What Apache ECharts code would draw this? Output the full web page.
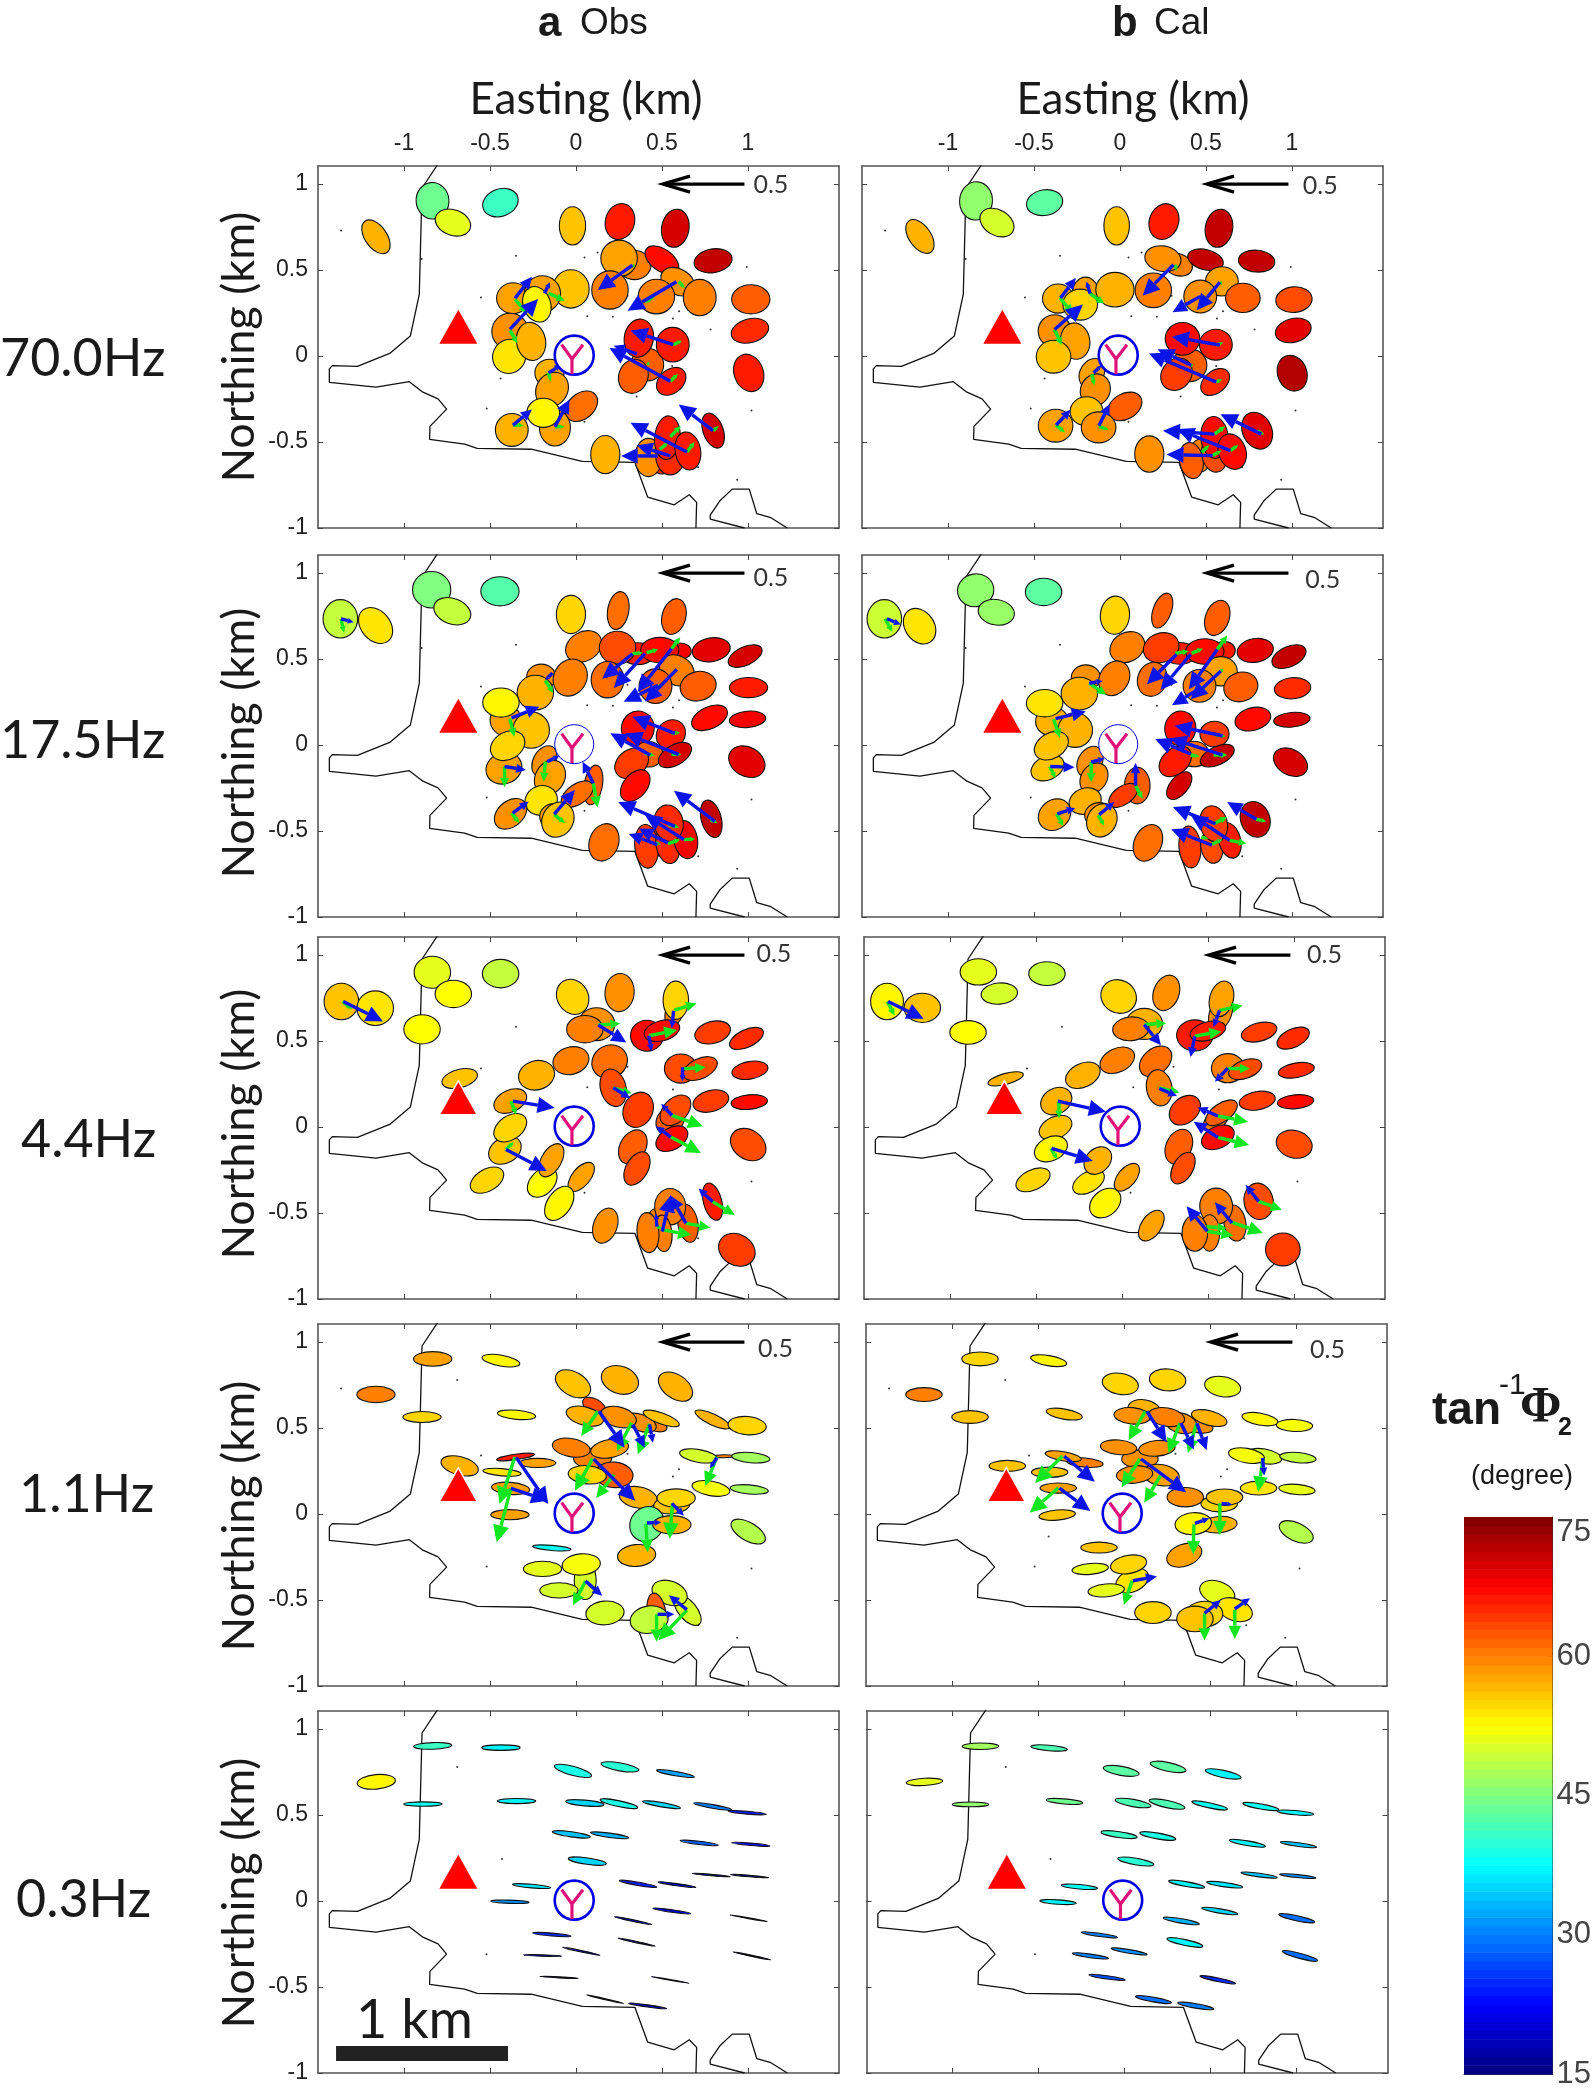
<!DOCTYPE html>
<html><head><meta charset="utf-8">
<style>html,body{margin:0;padding:0;background:#fff}#c{width:1594px;height:2090px}</style>
<script src="https://cdn.jsdelivr.net/npm/echarts@6/dist/echarts.min.js"></script>
</head><body><div id="c"></div>
<script>
const xTicks=[-1,-0.5,0,0.5,1];
const yTicks=[-1,-0.5,0,0.5,1];
const cbTicks=[15,30,45,60,75];
const coastMain=[[-.8,1.12],[-.895,.977],[-.911,.359],[-.963,.116],[-1.083,.015],[-1.271,-.06],[-1.417,-.056],[-1.434,-.075],[-1.434,-.153],[-1.163,-.181],[-.969,-.149],[-.89,-.21],[-.802,-.249],[-.752,-.309],[-.849,-.409],[-.851,-.485],[-.647,-.512],[-.574,-.537],[-.26,-.542],[.037,-.612],[.343,-.618],[.417,-.82],[.572,-.865],[.659,-.807],[.702,-.851],[.698,-1]];
const coastBay=[[.981,-1],[.781,-.948],[.781,-.925],[.839,-.84],[.909,-.774],[1.008,-.774],[1.052,-.917],[1.134,-.94],[1.229,-1]];
const volcano=[[-.684,.17]];
const yCentre=[[-.01,.005]];
const yGlyph=[[-.083,.066],[-.023,-.017],[.041,.066],[-.023,-.017],[-.023,-.104]];
const scaleBar=[[-1.395,-.886],[-.395,-.886]];
const stationDots=[[-1.366,.73],[-.897,.564],[-.349,.583],[.05,.573],[.126,.602],[.994,.517],[-.552,.34],[.066,.232],[.215,.228],[.564,.218],[.783,.154],[.56,-.058],[.353,-.236],[-.519,-.305],[.05,-.382],[-.438,-.131],[.711,-.647],[.938,-.72],[1.021,-.317],[-.69,.78],[.6,.26],[.3,.35]];
const stationDotsLow=[[-.69,.78],[-.43,.245],[-.52,-.31]];

// [x, y, semi-axis a, semi-axis b, angle of a (deg), tan^-1 Phi2 value]
const obs70=[[-1.163,.693,.105,.06,125,57],[-.834,.903,.1,.09,95,44],[-.715,.776,.1,.07,160,51],[-.439,.892,.1,.075,20,41],[-.02,.757,.105,.072,90,56],[.256,.782,.1,.08,75,66],[.578,.743,.105,.075,80,70],[.341,.529,.09,.08,0,60],[.251,.568,.1,.1,0,58],[.5,.558,.105,.06,145,67],[.798,.554,.105,.065,10,71],[.593,.432,.1,.07,150,59],[.72,.34,.1,.09,90,60],[.468,.346,.1,.095,0,60],[.198,.384,.105,.1,90,60],[-.029,.39,.105,.1,90,56],[1.017,.33,.105,.08,0,62],[1.012,.147,.105,.065,15,65],[1.005,-.098,.105,.08,110,66],[-.366,.336,.09,.085,0,58],[-.195,.361,.1,.1,0,58],[-.227,.301,.1,.075,110,53],[-.383,.143,.1,.1,0,59],[-.388,-.002,.095,.09,60,54],[-.261,.085,.105,.08,100,57],[-.154,-.098,.08,.075,0,57],[-.139,-.195,.1,.085,55,58],[.032,-.292,.1,.07,40,61],[-.122,-.417,.1,.085,90,58],[-.19,-.33,.09,.08,0,53],[-.373,-.43,.09,.09,0,57],[.171,-.573,.105,.08,90,57],[.5,-.58,.1,.07,90,65],[.422,-.59,.105,.075,90,59],[.549,-.58,.105,.08,90,65],[.532,-.475,.12,.07,85,66],[.651,-.552,.105,.07,100,66],[.798,-.434,.1,.055,110,70],[.415,-.05,.09,.09,0,62],[.366,.104,.105,.08,80,66],[.563,.066,.095,.09,90,66],[.334,-.118,.095,.08,70,62],[.554,-.147,.09,.065,40,66]];
const obs70Green=[[.598,.432,.634,.394],[.451,.346,.402,.307],[-.159,.365,-.066,.322],[-.354,.33,-.285,.249],[-.383,.149,-.341,.075],[.566,.066,.617,.089],[.549,-.147,.593,-.104],[-.159,-.098,-.146,-.147],[-.366,-.402,-.305,-.402],[-.122,-.411,-.066,-.411],[.798,-.434,.83,-.407],[.646,-.558,.69,-.5],[.549,-.469,.61,-.407],[.488,-.542,.537,-.504],[.415,-.04,.43,-.055],[.329,.529,.345,.52]];
const obs70Blue=[[.329,.529,.127,.384],[.585,.432,.3,.264],[-.354,.336,-.256,.461],[-.183,.365,-.151,.429],[-.383,.156,-.22,.332],[.566,.066,.317,.149],[.549,-.147,.195,.046],[.354,.012,.22,.06],[-.159,-.098,-.085,-.05],[-.122,-.411,-.037,-.253],[-.366,-.402,-.256,-.311],[.798,-.434,.598,-.282],[.646,-.558,.317,-.388],[.549,-.581,.354,-.519],[.476,-.581,.263,-.581]];

const obs17=[[-1.37,.734,.105,.095,90,49],[-1.165,.695,.11,.08,130,54],[-.839,.903,.105,.1,0,45],[-.719,.778,.105,.07,160,49],[-.442,.894,.105,.08,0,42.5],[-.029,.759,.105,.08,90,55],[.246,.782,.105,.058,80,61],[.57,.747,.1,.065,75,62],[.36,.531,.09,.06,0,66],[.607,.546,.06,.045,0,68],[.488,.552,.105,.07,0,67],[.045,.573,.105,.08,30,60],[.242,.566,.1,.09,0,63],[.787,.554,.105,.065,10,69],[.984,.517,.1,.05,25,70],[-.202,.396,.08,.07,0,59],[-.033,.392,.105,.09,60,60],[-.236,.305,.1,.095,0,57],[.184,.38,.1,.09,90,61],[.587,.434,.1,.08,150,60],[.711,.342,.1,.08,15,62],[.463,.342,.095,.09,90,62],[1.004,.334,.105,.055,0,66],[-.409,.145,.085,.085,0,58],[-.436,.247,.1,.08,0,53],[-.26,.087,.1,.1,0,56],[-.419,-.135,.1,.085,20,58],[-.397,-.004,.1,.075,30,55],[-.184,-.093,.09,.06,60,59],[-.151,-.189,.1,.08,60,58],[.101,-.232,.11,.05,80,62],[.008,-.286,.1,.055,35,61],[-.202,-.322,.09,.08,20,54],[-.38,-.4,.1,.07,40,59],[-.126,-.415,.08,.07,0,58],[-.105,-.434,.1,.085,60,56],[.163,-.566,.105,.08,70,61],[.483,-.55,.09,.06,90,64],[.411,-.589,.12,.065,95,64],[.535,-.579,.105,.065,100,65],[.638,-.55,.105,.065,100,68],[.539,-.454,.1,.08,100,65],[.787,-.429,.105,.055,105,71],[.36,.097,.095,.09,80,67],[.552,.062,.085,.075,45,66],[.421,-.054,.08,.07,0,62],[.576,-.058,.1,.055,30,70],[.324,-.106,.1,.075,35,64],[.345,-.236,.1,.065,50,67],[.777,.158,.105,.06,25,67],[.998,.149,.1,.045,5,68],[.994,-.097,.105,.08,150,69]];
const obs17Green=[[-1.366,.734,-1.349,.653],[-.178,.376,-.132,.303],[-.384,.154,-.358,.048],[.329,.531,.39,.537],[.411,.537,.479,.556],[.556,.56,.607,.627],[.477,.347,.494,.337],[.556,.068,.607,.073],[.401,-.048,.459,-.062],[.556,-.054,.614,-.054],[-.415,-.125,-.415,-.245],[-.178,-.097,-.188,-.212],[.101,-.222,.126,-.363],[-.126,-.405,-.064,-.454],[-.374,-.396,-.329,-.454],[.783,-.434,.824,-.454],[.535,-.463,.601,-.479],[.628,-.55,.694,-.546],[.535,-.573,.607,-.55],[.463,-.569,.494,-.579]];
const obs17Blue=[[-1.366,.734,-1.293,.714],[-.136,.419,-.178,.376],[-.374,.158,-.213,.222],[.329,.531,.153,.386],[.401,.531,.221,.332],[.556,.56,.359,.309],[.587,.44,.401,.251],[.477,.347,.277,.251],[.576,.068,.328,.164],[.597,-.054,.287,.068],[.432,-.058,.2,.068],[-.415,-.125,-.291,-.145],[-.167,-.097,-.095,-.062],[.101,-.222,.039,-.097],[-.126,-.402,-.006,-.261],[-.368,-.396,-.275,-.328],[.808,-.444,.57,-.266],[.576,-.473,.246,-.332],[.628,-.55,.401,-.405],[.535,-.569,.366,-.486],[.473,-.579,.308,-.517]];

const obs4=[[-1.364,.73,.1,.095,90,56],[-1.167,.691,.1,.095,0,54],[-.835,.9,.1,.088,0,51],[-.713,.774,.1,.075,0,52.5],[-.438,.892,.1,.078,0,49],[-.895,.568,.1,.08,0,52.5],[-.019,.757,.1,.085,120,55],[.254,.782,.105,.08,85,59],[.579,.685,.1,.05,70,60],[.581,.737,.105,.07,90,55],[.12,.598,.1,.09,0,59],[.052,.569,.1,.075,0,60],[.413,.531,.09,.085,0,67],[.5,.56,.1,.055,15,67],[.795,.55,.1,.06,15,64],[.992,.515,.1,.048,25,65],[-.029,.386,.1,.075,15,60],[.196,.38,.1,.09,30,61],[-.229,.301,.1,.08,15,57],[.61,.34,.09,.08,0,63],[.723,.34,.1,.055,25,63],[1.012,.33,.1,.048,10,65],[-.676,.282,.1,.05,15,56],[-.382,.151,.095,.06,25,58],[.217,.228,.105,.07,105,63],[.362,.1,.1,.08,65,64],[.548,.039,.085,.07,45,62],[.579,.097,.1,.065,45,63],[.785,.151,.1,.058,15,64],[1.008,.145,.1,.04,5,67],[-.413,-.135,.095,.07,30,56],[-.382,-.004,.1,.065,35,55],[.558,-.068,.095,.06,30,67],[.331,-.116,.1,.07,60,62],[1.002,-.102,.105,.08,145,63],[-.196,-.322,.095,.065,45,52.5],[-.143,-.193,.1,.055,60,58],[-.517,-.309,.1,.06,30,55],[.031,-.29,.095,.05,50,58],[.355,-.241,.1,.06,60,63],[-.097,-.444,.105,.065,55,53],[.465,-.56,.08,.05,90,60],[.651,-.56,.105,.055,100,62],[.548,-.463,.1,.085,90,60],[.795,-.434,.105,.05,105,66],[.171,-.573,.1,.065,70,59],[.506,-.618,.1,.05,95,60],[.419,-.614,.11,.06,95,60],[.936,-.714,.105,.085,150,64]];
const obs4Green=[[-1.357,.73,-1.302,.685],[.13,.593,.258,.602],[.572,.68,.702,.718],[.424,.531,.589,.564],[.62,.338,.754,.347],[.217,.228,.324,.197],[-.378,.151,-.347,.073],[.558,.068,.738,.004],[.552,-.058,.727,-.151],[-.407,-.131,-.362,-.087],[.502,-.598,.671,-.627],[.64,-.56,.781,-.585],[.795,-.434,.924,-.512],[.471,-.579,.502,-.589]];
const obs4Blue=[[-1.353,.73,-1.122,.614],[.13,.593,.293,.492],[.568,.676,.558,.575],[.424,.531,.44,.44],[.62,.347,.62,.266],[.217,.228,.316,.168],[-.366,.151,-.124,.112],[.558,.068,.496,.135],[.552,-.058,.465,.004],[-.407,-.131,-.169,-.255],[.502,-.608,.552,-.396],[.64,-.56,.548,-.396],[.795,-.434,.713,-.357],[.471,-.579,.465,-.502]];

const obs1=[[-1.163,.695,.105,.045,0,60],[-.833,.902,.105,.04,0,58],[-.436,.892,.105,.03,170,53],[-.017,.757,.105,.065,150,56],[.256,.78,.105,.075,160,57],[.579,.741,.105,.065,145,57],[-.895,.564,.105,.03,0,55],[-.345,.577,.105,.025,175,53],[.107,.627,.07,.04,150,63],[.052,.569,.105,.05,165,57],[.459,.521,.07,.035,160,60],[.376,.531,.09,.045,160,59],[.248,.564,.1,.055,165,59],[.496,.556,.105,.03,160,56],[.795,.55,.105,.03,155,57],[.996,.514,.105,.05,175,55],[.097,.324,.105,.055,0,60],[-.027,.386,.105,.05,170,60],[.196,.38,.105,.05,10,58],[.862,.336,.06,.008,0,60],[.713,.338,.105,.035,170,50],[1.017,.328,.105,.028,175,47],[-.223,.297,.1,.025,0,58],[-.351,.332,.105,.015,8,66],[-.676,.28,.105,.05,165,57],[-.43,.243,.105,.02,175,54],[.221,.228,.105,.07,175,62],[.066,.228,.105,.05,175,55],[-.38,.149,.105,.033,175,58],[.362,.097,.105,.058,170,57],[.558,.054,.1,.05,5,56],[.583,.093,.105,.05,0,55],[.785,.149,.105,.04,170,52],[1.008,.143,.105,.025,175,47],[-.384,-.004,.105,.028,0,58],[.413,-.058,.1,.09,50,44],[.558,-.062,.105,.05,0,57],[1.002,-.102,.105,.05,150,48],[-.14,-.197,.105,.014,175,38],[.353,-.241,.105,.06,5,57],[.054,-.386,.105,.06,90,50],[.031,-.293,.105,.058,5,52],[-.194,-.319,.105,.042,0,51],[-.099,-.444,.105,.042,0,50],[.649,-.56,.1,.05,130,50],[.545,-.459,.1,.065,160,50],[.169,-.575,.105,.065,5,50],[.469,-.57,.105,.05,100,62],[.426,-.614,.105,.075,10,49]];
const obs1Green=[[-.355,.332,-.444,.058],[-.378,.149,-.461,-.164],[.128,.598,.031,.454],[.324,.531,.238,.367],[.428,.525,.36,.347],[.097,.322,-.006,.135],[.221,.228,.118,.093],[.82,.332,.752,.164],[.562,.062,.545,-.145],[.407,-.058,.417,-.222],[.056,-.39,-.017,-.531],[.645,-.56,.479,-.734],[.469,-.583,.469,-.743]];
const obs1Blue=[[-.347,.328,-.161,.058],[-.378,.149,-.161,.077],[.134,.598,.283,.386],[.331,.521,.401,.386],[.428,.521,.448,.415],[.103,.319,.345,.077],[.82,.328,.779,.266],[.558,.062,.628,-.01],[.413,-.052,.496,-.048],[.056,-.39,.153,-.475],[.645,-.556,.541,-.473],[.475,-.583,.572,-.583]];

const obs03=[[-1.161,.693,.105,.04,5,53],[-.833,.902,.105,.018,2,41],[-.436,.892,.105,.015,0,37],[-.017,.757,.105,.025,165,39],[.256,.78,.105,.022,170,40],[.579,.741,.105,.012,170,32],[-.89,.564,.105,.012,0,38],[-.345,.581,.105,.014,0,37],[.052,.57,.105,.016,175,35],[.25,.566,.105,.016,168,39],[.498,.56,.105,.012,170,35],[.795,.55,.105,.01,170,30],[.996,.514,.105,.008,175,24],[-.027,.388,.105,.014,172,34],[.196,.382,.105,.012,172,33],[.066,.232,.105,.017,172,35],[.717,.338,.105,.009,173,28],[1.017,.33,.105,.007,175,23],[-.258,.087,.105,.01,175,36],[-.384,-.004,.105,.009,178,31],[.362,.1,.105,.009,170,24],[.587,.095,.105,.006,172,21],[.787,.151,.105,.004,175,18],[1.01,.145,.105,.004,175,18],[.558,-.058,.105,.007,172,20],[.333,-.114,.105,.005,168,18],[-.14,-.195,.105,.008,175,25],[1.004,-.1,.105,.002,170,16],[.353,-.239,.105,.004,168,17],[.031,-.292,.105,.004,168,17],[-.194,-.317,.105,.004,178,18],[1.023,-.319,.105,.003,168,16],[-.099,-.444,.105,.003,177,16],[.548,-.459,.105,.002,170,15.5],[.171,-.571,.105,.003,167,16],[.417,-.61,.105,.006,172,19]];

const cal70=[[-1.163,.695,.105,.06,125,57],[-.837,.902,.105,.09,85,46],[-.715,.776,.1,.07,150,50],[-.438,.892,.1,.07,10,43],[-.019,.757,.105,.07,90,56],[.256,.782,.1,.08,70,66],[.576,.743,.105,.075,80,71],[.339,.531,.08,.06,160,60],[.25,.566,.1,.07,170,59],[.498,.56,.1,.055,165,71],[.795,.552,.1,.06,175,71],[-.2,.353,.1,.075,90,58],[-.36,.334,.085,.08,0,57],[-.029,.386,.105,.095,0,57],[-.231,.299,.095,.085,0,55],[.194,.382,.1,.095,0,60],[.593,.434,.09,.08,0,58],[.467,.346,.09,.09,0,59],[.715,.338,.095,.08,0,62],[1.012,.328,.1,.07,5,63],[-.38,.145,.09,.09,0,59],[-.26,.087,.1,.08,100,58],[-.386,-.004,.095,.09,0,56],[1.008,.149,.1,.065,15,69],[.405,-.054,.095,.09,0,62],[.364,.1,.095,.09,0,67],[.558,.066,.09,.085,0,66],[.329,-.106,.095,.08,50,64],[.554,-.151,.09,.06,40,65],[1.002,-.1,.1,.08,110,72],[-.163,-.1,.085,.065,60,58],[-.143,-.197,.09,.08,60,59],[.029,-.293,.1,.07,30,62],[-.194,-.322,.09,.08,0,56],[-.374,-.405,.095,.09,0,58],[-.124,-.415,.095,.085,0,59],[.171,-.57,.1,.08,90,59],[.467,-.579,.09,.06,90,60],[.415,-.608,.1,.065,100,62],[.55,-.57,.1,.07,100,63],[.55,-.473,.115,.075,95,67],[.653,-.556,.1,.075,110,67],[.798,-.434,.105,.08,115,69]];
const cal70Green=[[.322,.531,.329,.492],[.581,.429,.594,.415],[.467,.344,.504,.319],[-.349,.338,-.273,.247],[-.174,.363,-.091,.305],[-.38,.154,-.339,.064],[.56,.064,.601,.077],[.415,-.054,.425,-.058],[.56,-.151,.595,-.135],[-.163,-.106,-.149,-.17],[-.122,-.409,-.066,-.429],[-.371,-.402,-.32,-.444],[.798,-.434,.839,-.458],[.55,-.454,.612,-.409],[.643,-.55,.688,-.517],[.539,-.579,.591,-.55],[.477,-.56,.519,-.517]];
const cal70Blue=[[.312,.531,.132,.351],[.581,.429,.446,.266],[.467,.347,.306,.255],[-.345,.338,-.256,.454],[-.174,.363,-.194,.434],[-.38,.154,-.215,.299],[.581,.064,.302,.112],[.415,-.054,.219,.039],[.56,-.151,.169,.015],[-.153,-.097,-.107,-.054],[-.122,-.405,-.06,-.28],[-.371,-.402,-.287,-.313],[.822,-.454,.585,-.338],[.55,-.454,.25,-.434],[.643,-.55,.333,-.425],[.539,-.579,.271,-.573]];

const cal17=[[-1.37,.734,.105,.095,90,49.5],[-1.165,.691,.105,.08,125,54],[-.839,.9,.1,.09,10,46],[-.719,.772,.1,.07,170,46.5],[-.444,.89,.1,.075,0,43],[-.029,.755,.105,.08,85,55],[.246,.782,.1,.05,70,62],[.566,.739,.1,.065,70,62],[.349,.533,.09,.06,0,66],[.607,.55,.06,.05,0,66],[.494,.544,.105,.07,0,67],[.043,.569,.1,.08,30,60],[.24,.566,.1,.08,20,64],[.787,.55,.1,.065,10,69],[.983,.514,.1,.055,25,71],[-.198,.392,.08,.07,0,59],[-.033,.388,.1,.08,60,60],[-.236,.299,.1,.09,0,57],[.188,.382,.095,.08,70,61],[.587,.429,.09,.08,0,58],[.703,.338,.095,.08,20,62],[.463,.344,.09,.09,0,60],[1.004,.33,.1,.058,5,65],[-.395,.137,.09,.08,0,57],[-.438,.243,.1,.075,0,54],[-.26,.087,.095,.095,0,57],[-.421,-.133,.095,.065,25,56],[-.399,-.004,.1,.07,30,56],[-.174,-.097,.09,.065,60,59],[-.151,-.193,.09,.07,55,59],[.101,-.236,.1,.07,90,62],[.019,-.293,.09,.05,35,64],[-.202,-.326,.09,.07,20,57],[-.38,-.405,.095,.08,40,58],[-.12,-.409,.08,.07,0,59],[-.105,-.438,.095,.08,60,57],[.163,-.569,.105,.075,65,61],[.407,-.593,.115,.06,95,64],[.535,-.593,.09,.06,100,63],[.638,-.554,.1,.06,105,66],[.545,-.458,.1,.075,105,64],[.787,-.432,.1,.08,110,71],[.351,.097,.095,.085,80,67],[.55,.064,.08,.07,0,64],[.432,-.052,.08,.07,0,61],[.566,-.062,.1,.05,25,71],[.322,-.095,.1,.07,40,66],[.345,-.236,.09,.05,50,70],[.773,.151,.1,.062,15,67],[1,.147,.1,.04,5,70],[.992,-.1,.1,.07,150,70]];
const cal17Green=[[-1.366,.734,-1.324,.658],[-.178,.359,-.079,.292],[-.386,.151,-.349,.044],[.322,.533,.401,.546],[.417,.533,.483,.562],[.566,.556,.624,.637],[.587,.43,.603,.444],[.473,.334,.504,.334],[.558,.06,.614,.05],[.411,-.058,.463,-.066],[.545,-.058,.624,-.058],[-.409,-.125,-.374,-.193],[-.167,-.1,-.167,-.216],[.091,-.236,.132,-.313],[-.126,-.409,-.091,-.467],[-.368,-.4,-.329,-.473],[.793,-.432,.851,-.444],[.545,-.458,.624,-.419],[.638,-.554,.736,-.573],[.535,-.577,.597,-.548],[.473,-.535,.514,-.545]];
const cal17Blue=[[-1.355,.734,-1.275,.701],[-.178,.359,-.101,.373],[-.374,.154,-.198,.195],[.329,.527,.157,.353],[.411,.527,.236,.32],[.566,.556,.401,.324],[.587,.43,.411,.266],[.473,.334,.302,.232],[.597,.054,.318,.112],[.597,-.058,.291,.039],[.411,-.052,.205,.035],[-.405,-.125,-.264,-.129],[-.167,-.1,-.089,-.077],[.091,-.236,.091,-.104],[-.12,-.405,-.033,-.332],[-.364,-.4,-.26,-.367],[.793,-.432,.624,-.332],[.556,-.458,.308,-.361],[.638,-.554,.411,-.405],[.535,-.583,.298,-.49]];

const cal4=[[-1.366,.73,.1,.09,90,53],[-1.161,.693,.1,.08,0,56],[-.835,.902,.1,.072,0,51],[-.713,.776,.1,.058,5,50],[-.436,.892,.1,.065,0,49],[-.895,.55,.1,.065,0,52.5],[-.019,.759,.1,.09,150,55],[.258,.78,.1,.07,70,59],[.574,.662,.1,.06,70,59],[.579,.745,.1,.065,75,58],[.13,.6,.1,.085,0,57],[.052,.571,.1,.065,5,60],[.424,.533,.1,.085,0,66],[.5,.558,.1,.05,15,66],[.798,.552,.1,.05,15,64],[.996,.517,.095,.05,25,65],[-.027,.388,.1,.065,25,60],[.196,.382,.1,.07,40,61],[-.227,.301,.1,.065,25,57],[.616,.342,.09,.08,0,60],[.717,.336,.095,.05,20,63],[1.014,.33,.1,.04,10,65],[-.676,.28,.1,.03,15,57],[-.382,.151,.09,.07,30,57],[.217,.228,.1,.07,100,60],[.366,.098,.095,.07,40,64],[.548,.041,.08,.05,40,60],[.579,.083,.1,.05,35,62],[.787,.153,.1,.05,10,64],[1.01,.147,.1,.038,5,67],[-.386,-.004,.095,.06,25,56],[-.413,-.127,.095,.065,25,53],[.558,-.06,.095,.06,25,67],[.331,-.114,.1,.07,65,62],[1.002,-.1,.1,.075,165,63],[-.194,-.32,.095,.055,30,54],[-.14,-.195,.085,.065,45,57],[-.517,-.307,.1,.055,25,55],[.029,-.292,.09,.05,50,58],[.355,-.239,.095,.055,60,63],[-.097,-.442,.095,.07,40,53],[.657,-.558,.1,.06,100,61],[.548,-.461,.1,.09,90,60],[.795,-.432,.1,.08,100,63],[.171,-.573,.095,.055,55,58],[.51,-.616,.1,.055,90,60],[.424,-.616,.1,.07,90,60],[.936,-.712,.095,.09,0,64]];
const cal4Green=[[-1.364,.73,-1.322,.649],[.13,.597,.258,.604],[.568,.678,.702,.707],[.424,.529,.579,.556],[.616,.34,.744,.34],[.217,.228,.335,.201],[-.366,.151,-.366,.05],[.558,.064,.733,.031],[.558,-.06,.74,-.104],[-.413,-.124,-.376,-.187],[.496,-.606,.647,-.631],[.492,-.58,.61,-.587],[.64,-.554,.82,-.616],[.795,-.432,.93,-.481]];
const cal4Blue=[[-1.36,.73,-1.153,.629],[.13,.595,.227,.475],[.568,.678,.533,.581],[.424,.527,.399,.407],[.616,.342,.541,.263],[.217,.224,.32,.18],[-.372,.151,-.093,.089],[.558,.064,.44,.114],[.558,-.06,.417,.031],[-.409,-.124,-.169,-.197],[.496,-.606,.376,-.461],[.64,-.558,.541,-.438],[.795,-.432,.719,-.336]];

const cal1=[[-1.163,.695,.1,.038,0,60],[-.837,.902,.1,.038,0,55],[-.438,.892,.1,.028,170,53],[-.021,.757,.1,.058,170,55],[.254,.78,.1,.06,175,55],[.574,.741,.1,.055,170,51],[-.895,.564,.1,.035,0,56],[-.347,.581,.1,.028,170,56],[.118,.606,.09,.055,170,57],[.048,.571,.1,.045,175,59],[.434,.51,.08,.035,170,59],[.331,.529,.09,.055,165,59],[.248,.564,.1,.05,170,60],[.496,.558,.1,.04,165,57],[.791,.552,.1,.033,170,53],[.992,.515,.1,.033,178,52],[.093,.32,.1,.05,0,59],[-.031,.388,.1,.04,175,59],[.192,.382,.1,.043,5,59],[.814,.336,.1,.04,170,50],[.713,.34,.1,.04,170,52],[1.012,.328,.1,.028,175,49],[-.227,.299,.1,.025,175,60],[-.353,.336,.1,.025,170,58],[-.678,.28,.1,.03,0,56],[-.432,.243,.1,.028,0,56],[.217,.226,.1,.058,170,58],[.062,.23,.1,.048,5,59],[-.382,.151,.1,.028,0,58],[.357,.098,.1,.053,0,59],[.554,.06,.1,.045,0,55],[.585,.098,.1,.045,0,56],[.783,.151,.1,.038,0,54],[1.006,.143,.1,.028,175,51],[-.388,-.006,.1,.028,5,56],[.552,-.062,.1,.045,5,57],[.403,-.056,.1,.06,5,53],[1.002,-.104,.1,.05,155,48],[-.145,-.195,.1,.03,0,56],[.351,-.239,.1,.06,20,58],[.048,-.388,.095,.06,25,54],[.027,-.293,.1,.05,10,55],[-.196,-.319,.1,.03,5,51],[-.103,-.444,.1,.035,5,51],[.543,-.457,.1,.062,160,51],[.645,-.556,.1,.06,160,54],[.169,-.573,.1,.06,0,55],[.469,-.581,.1,.07,0,55],[.413,-.61,.1,.07,0,56]];
const cal1Green=[[-.358,.336,-.517,.181],[-.382,.151,-.548,.008],[.124,.597,.027,.429],[.326,.529,.258,.355],[.424,.529,.372,.355],[.093,.32,-.014,.156],[.213,.224,.118,.066],[.81,.326,.781,.129],[.558,.062,.558,-.124],[.407,-.06,.403,-.236],[.048,-.388,0,-.529],[.469,-.577,.469,-.736],[.645,-.556,.645,-.726]];
const cal1Blue=[[-.347,.336,-.169,.187],[-.376,.151,-.196,.017],[.134,.597,.248,.417],[.331,.529,.407,.375],[.424,.529,.481,.371],[.099,.32,.362,.127],[.806,.326,.816,.224],[.568,.062,.63,.056],[.413,-.054,.496,-.025],[.052,-.388,.192,-.363],[.469,-.577,.564,-.5],[.645,-.552,.733,-.49]];

const cal03=[[-1.163,.693,.1,.02,3,51],[-.837,.9,.1,.018,0,47],[-.438,.89,.1,.015,175,42],[-.019,.757,.1,.025,170,43],[.254,.78,.1,.024,168,43],[.574,.739,.1,.02,168,37],[-.895,.562,.1,.013,0,46],[-.349,.579,.1,.014,175,44],[.05,.57,.1,.02,170,42],[.248,.564,.1,.02,168,42],[.496,.556,.1,.014,168,38],[.793,.55,.1,.014,170,38],[.994,.514,.1,.012,175,37],[-.031,.386,.1,.016,172,41],[.194,.378,.1,.016,170,39],[.715,.336,.1,.013,170,37],[1.012,.328,.1,.01,172,34],[.066,.23,.1,.018,170,40],[-.262,.083,.1,.012,175,38],[-.386,-.006,.1,.012,176,37],[.362,.098,.1,.013,170,37],[.583,.095,.1,.012,172,36],[.783,.151,.1,.01,172,34],[1.008,.145,.1,.008,174,31],[.554,-.058,.1,.012,170,35],[.331,-.116,.1,.012,170,33],[-.145,-.197,.1,.009,172,30],[1.002,-.1,.1,.014,168,29],[.351,-.241,.1,.016,168,37],[.027,-.293,.1,.01,170,31],[-.198,-.319,.1,.01,172,30],[1.021,-.319,.1,.014,165,29],[-.101,-.444,.1,.009,172,27],[.543,-.458,.1,.01,168,25],[.169,-.573,.1,.013,170,29],[.415,-.61,.1,.012,170,30]];

const frequencies=['70.0Hz','17.5Hz','4.4Hz','1.1Hz','0.3Hz'];
const obsRows=[[obs70,obs70Blue,obs70Green],[obs17,obs17Blue,obs17Green],[obs4,obs4Blue,obs4Green],[obs1,obs1Blue,obs1Green],[obs03,[],[]]];
const calRows=[[cal70,cal70Blue,cal70Green],[cal17,cal17Blue,cal17Green],[cal4,cal4Blue,cal4Green],[cal1,cal1Blue,cal1Green],[cal03,[],[]]];
const refArrow=[[.98,1],[.495,1]];
const refLabelObs=[[1.134,.995],[1.134,.971],[1.151,1.004],[1.161,.96],null];
const refLabelCal=[[1.165,.988],[1.18,.961],[1.178,1.002],[1.184,.954],null];

const rowTops=[166,555,937,1324,1711];
const calLefts=[862,862,864,866,866.5];
const obsLeft=318, panelW=521, panelH=362;
const ellipseGrow=1.06;

function jet(v){const t=Math.max(0,Math.min(1,(v-15)/60));
  const ch=s=>Math.round(255*Math.max(0,Math.min(1,1.5-Math.abs(4*t-s))));
  return 'rgb('+ch(3)+','+ch(2)+','+ch(1)+')';}

function renderEllipse(p,api){
  const c=api.coord([api.value(0),api.value(1)]),k=api.size([1,1])[0]*ellipseGrow;
  return {type:'ellipse',x:c[0],y:c[1],rotation:api.value(4)*Math.PI/180,
    shape:{cx:0,cy:0,rx:api.value(2)*k,ry:api.value(3)*k},
    style:{fill:jet(api.value(5)),stroke:'#111',lineWidth:1.1}};
}
function arrowRenderer(color,width){return function(p,api){
  const a=api.coord([api.value(0),api.value(1)]),b=api.coord([api.value(2),api.value(3)]);
  const dx=b[0]-a[0],dy=b[1]-a[1],len=Math.hypot(dx,dy)||1,ux=dx/len,uy=dy/len;
  const h=Math.min(17,len*.45),w=h*.48;
  const bx=b[0]-ux*h,by=b[1]-uy*h;
  return {type:'group',children:[
    {type:'line',shape:{x1:a[0],y1:a[1],x2:bx,y2:by},style:{stroke:color,lineWidth:width}},
    {type:'polygon',shape:{points:[[b[0],b[1]],[bx-uy*w,by+ux*w],[bx+uy*w,by-ux*w]]},style:{fill:color}}
  ]};};}
function renderRef(p,api){
  const a=api.coord([api.value(0),api.value(1)]),b=api.coord([api.value(2),api.value(3)]);
  return {type:'group',children:[
    {type:'line',shape:{x1:a[0],y1:a[1],x2:b[0]+3,y2:b[1]},style:{stroke:'#000',lineWidth:3.2}},
    {type:'polyline',shape:{points:[[b[0]+29,b[1]-8],[b[0]+2,b[1]],[b[0]+29,b[1]+8]]},style:{stroke:'#000',lineWidth:3.4,fill:null}}
  ]};
}

const grid=[],xAxis=[],yAxis=[],series=[];
function addPanel(left,top,row,colIdx,set,refLabel){
  const g=grid.length;
  grid.push({left,top,width:panelW,height:panelH});
  const tickStyle={inside:true,length:5,customValues:xTicks,lineStyle:{color:'#444',width:1}};
  const lineStyle={show:true,onZero:false,lineStyle:{color:'#555',width:1.6}};
  const xi=xAxis.length,yi=yAxis.length;
  xAxis.push({gridIndex:g,type:'value',min:-1.5,max:1.53,position:'bottom',axisLine:lineStyle,axisTick:tickStyle,axisLabel:{show:false},splitLine:{show:false}});
  xAxis.push({gridIndex:g,type:'value',min:-1.5,max:1.53,position:'top',axisLine:lineStyle,axisTick:tickStyle,
    axisLabel:{show:row===0,customValues:xTicks,margin:11,fontFamily:'Liberation Sans',fontSize:23,color:'#222',formatter:v=>String(v)},splitLine:{show:false}});
  yAxis.push({gridIndex:g,type:'value',min:-1,max:1.105,position:'left',axisLine:lineStyle,axisTick:{...tickStyle,customValues:yTicks},
    axisLabel:{show:colIdx===0,customValues:yTicks,margin:10,fontFamily:'Liberation Sans',fontSize:23,color:'#222',formatter:v=>String(v)},splitLine:{show:false}});
  yAxis.push({gridIndex:g,type:'value',min:-1,max:1.105,position:'right',axisLine:lineStyle,axisTick:{...tickStyle,customValues:yTicks},axisLabel:{show:false},splitLine:{show:false}});
  const ax={xAxisIndex:xi,yAxisIndex:yi};
  const lineBase={...ax,type:'line',symbol:'none',silent:true,animation:false};
  series.push({...lineBase,data:coastMain,lineStyle:{color:'#111',width:1.3},z:2,clip:true});
  series.push({...lineBase,data:coastBay,lineStyle:{color:'#111',width:1.3},z:2,clip:true});
  series.push({...ax,type:'scatter',data:row===4?stationDotsLow:stationDots,symbolSize:2,itemStyle:{color:'#333',opacity:1},z:2,silent:true,animation:false});
  series.push({...ax,type:'custom',renderItem:renderEllipse,data:set[0],encode:{x:0,y:1},z:3,clip:true,silent:true,animation:false});
  series.push({...ax,type:'custom',renderItem:arrowRenderer('#11e620',3.4),data:set[2],encode:{x:[0,2],y:[1,3]},z:4,clip:true,silent:true,animation:false});
  series.push({...ax,type:'custom',renderItem:arrowRenderer('#0a14e6',3.4),data:set[1],encode:{x:[0,2],y:[1,3]},z:5,clip:true,silent:true,animation:false});
  const whiteEdge=row===2||row===3;
  series.push({...ax,type:'scatter',data:volcano,symbol:'triangle',symbolSize:[38,34],itemStyle:{color:'#ff0000',opacity:1,borderColor:whiteEdge?'#fff':'transparent',borderWidth:whiteEdge?1.5:0},z:6,silent:true,animation:false});
  series.push({...ax,type:'scatter',data:yCentre,symbol:'circle',symbolSize:39,itemStyle:{color:'#fff',opacity:1,borderColor:'#0000e6',borderWidth:row===1?1:2.6},z:6,silent:true,animation:false});
  series.push({...lineBase,data:yGlyph,lineStyle:{color:'#e0107a',width:3.2,join:'miter'},z:7,clip:false});
  if(refLabel){
    series.push({...ax,type:'custom',renderItem:renderRef,data:[[refArrow[0][0],refArrow[0][1],refArrow[1][0],refArrow[1][1]]],encode:{x:[0,2],y:[1,3]},z:8,silent:true,animation:false});
    series.push({...ax,type:'scatter',data:[refLabel],symbolSize:0,z:8,silent:true,animation:false,
      label:{show:true,position:'inside',formatter:'0.5',fontFamily:'Lato',fontSize:25,color:'#000'}});
  }
  if(row===4&&colIdx===0){
    series.push({...lineBase,data:scaleBar,lineStyle:{color:'#222',width:15,cap:'butt'},z:8});
  }
}
rowTops.forEach((t,r)=>{
  addPanel(obsLeft,t,r,0,obsRows[r],refLabelObs[r]);
  addPanel(calLefts[r],t,r,1,calRows[r],refLabelCal[r]);
});

// colour bar
const cbGrid=grid.length;
grid.push({left:1464,top:1517,width:104,height:557});
const cbX=xAxis.length,cbY=yAxis.length;
const cbLevels=[];for(let i=0;i<64;i++)cbLevels.push([15+i*60/64,15+(i+1)*60/64]);
xAxis.push({gridIndex:cbGrid,type:'value',min:0,max:1,axisLine:{show:true,onZero:false,lineStyle:{color:'#333'}},axisTick:{show:false},axisLabel:{show:false},splitLine:{show:false}});
yAxis.push({gridIndex:cbGrid,type:'value',min:15,max:75,interval:15,position:'right',axisLine:{show:true,onZero:false,lineStyle:{color:'#333'}},
  axisTick:{inside:true,length:5,lineStyle:{color:'#333'},customValues:[30,45,60]},
  axisLabel:{margin:4,fontFamily:'Liberation Sans',fontSize:31,color:'#444',customValues:cbTicks,verticalAlignMaxLabel:'top'},splitLine:{show:false}});
series.push({type:'custom',xAxisIndex:cbX,yAxisIndex:cbY,data:cbLevels,encode:{y:[0,1]},z:1,silent:true,animation:false,
  renderItem(p,api){const a=api.coord([0,api.value(1)]),b=api.coord([1,api.value(0)]);
    return {type:'rect',shape:{x:a[0],y:a[1],width:b[0]-a[0],height:b[1]-a[1]+.5},style:{fill:jet((api.value(0)+api.value(1))/2)}};}});

const txt=(x,y,text,font,o={})=>({type:'text',x,y,z:20,rotation:o.rot||0,style:{text,font,fill:o.fill||'#1a1a1a',textAlign:o.align||'left',textVerticalAlign:o.va||'middle'}});
const graphics=[
  txt(538,24,'a','bold 42px "Liberation Sans"'),
  txt(580,24,'Obs','37px "Liberation Sans"'),
  txt(1112,24,'b','bold 42px "Liberation Sans"'),
  txt(1154,24,'Cal','37px "Liberation Sans"'),
  txt(586,100,'Easting (km)','44px Lato',{align:'center'}),
  txt(1133,100,'Easting (km)','44px Lato',{align:'center'}),
  txt(356,2048,'1 km','54px Lato',{va:'bottom'}),
  txt(1432,1411,'tan','bold 46px "Liberation Sans"'),
  txt(1499,1386,'-1','30px "Liberation Sans"'),
  txt(1520,1408,'Φ','bold 50px "Liberation Serif"'),
  txt(1558,1428,'2','bold 25px "Liberation Sans"'),
  txt(1522,1477,'(degree)','27px "Liberation Sans"',{align:'center'})
];
const hzX=[0,0,21,19,16],hzY=[359,741,1140,1495,1900],northY=[347,743,1124,1516,1893];
frequencies.forEach((f,i)=>{
  graphics.push(txt(hzX[i],hzY[i],f,'52px Lato'));
  graphics.push(txt(239,northY[i],'Northing (km)','45px Lato',{align:'center',rot:Math.PI/2}));
});

const chart=echarts.init(document.getElementById('c'),null,{renderer:'canvas'});
chart.setOption({animation:false,backgroundColor:'#fff',tooltip:{show:false},grid,xAxis,yAxis,series,graphic:{elements:graphics}});
</script></body></html>
